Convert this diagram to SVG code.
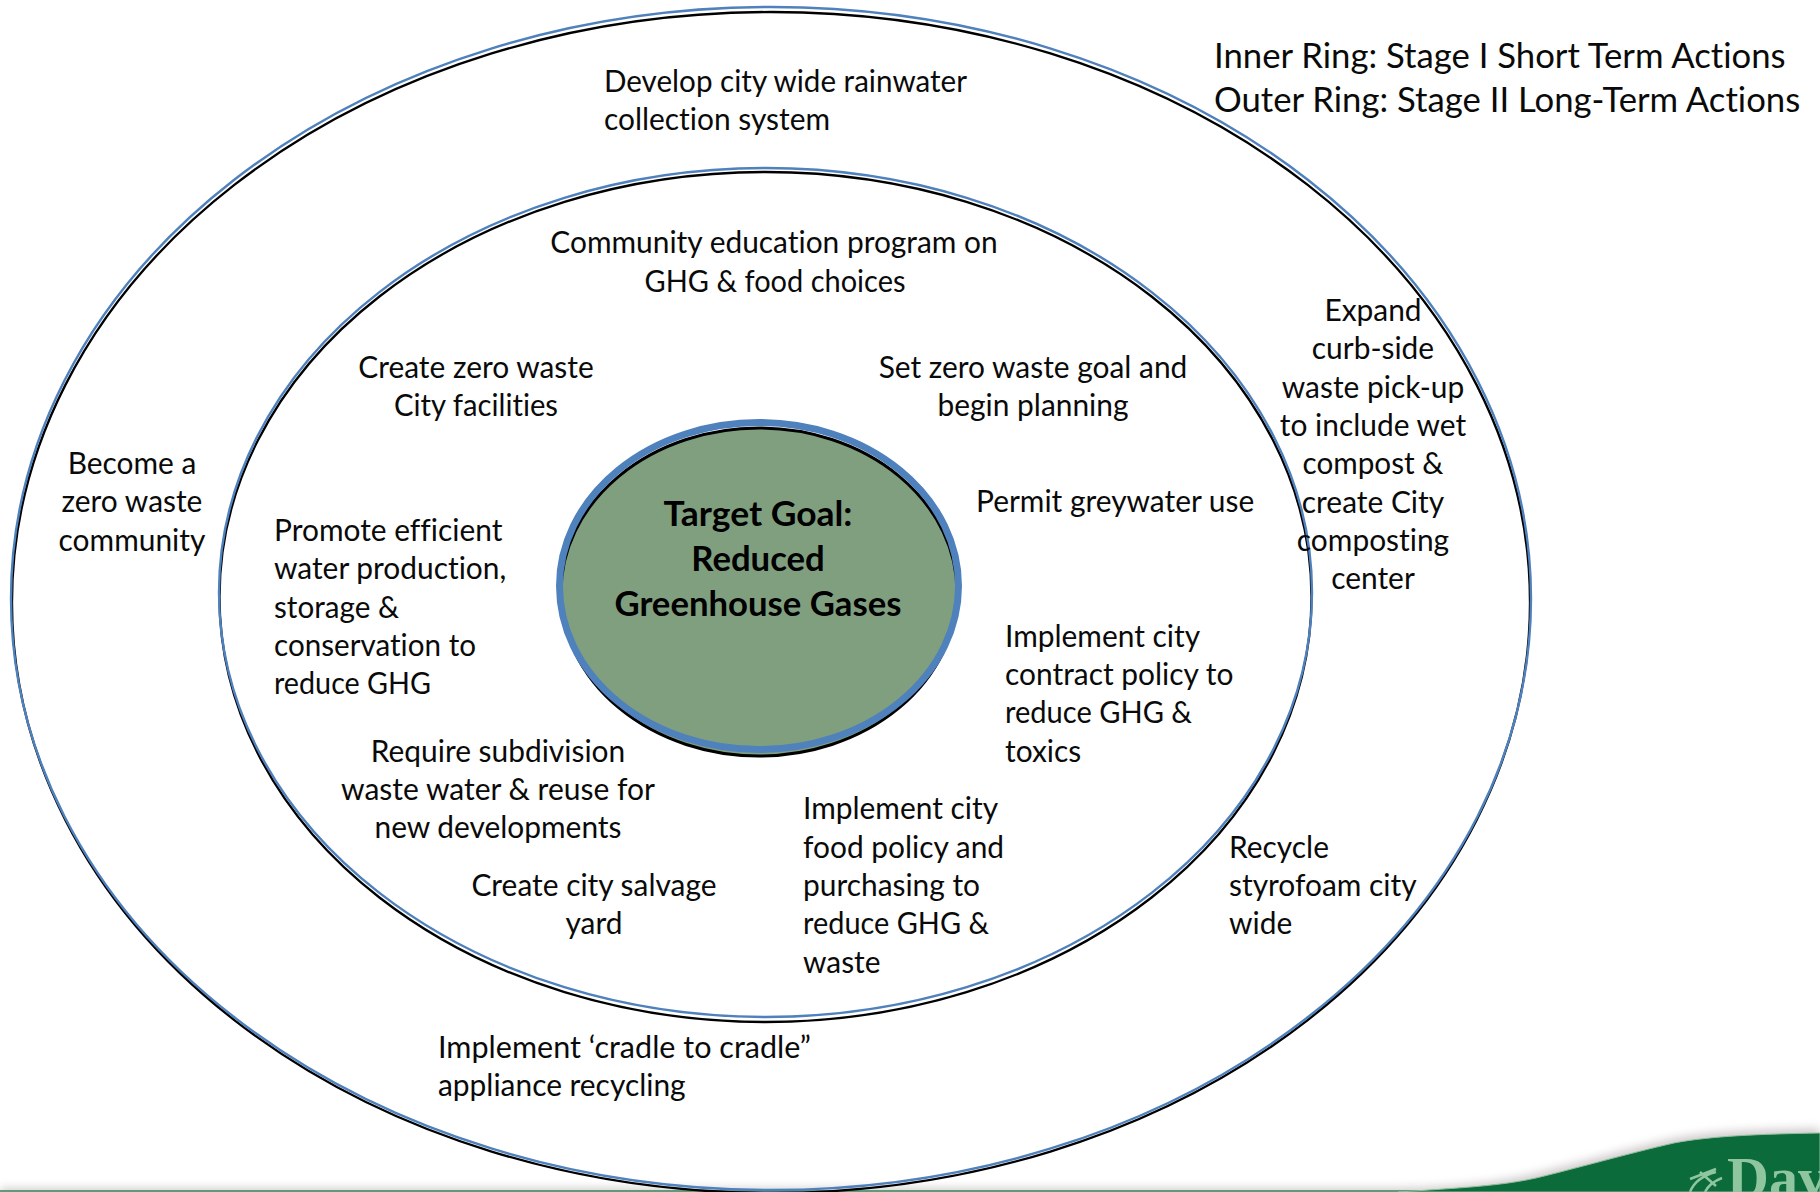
<svg xmlns="http://www.w3.org/2000/svg" width="1820" height="1192" viewBox="0 0 1820 1192">
<style>
text{font-family:"Lato","Liberation Sans",sans-serif;font-size:29.9px;fill:#0a0a0a;font-variant-ligatures:none}
.m{text-anchor:middle}
.b{font-weight:700;font-size:34.7px;text-anchor:middle;fill:#000}
.h{font-size:34.7px}
.k{fill:none;stroke:#000;stroke-width:2.3}
.u{fill:none;stroke:#4f81bd;stroke-width:2.4}
.d{font-family:"Liberation Serif",serif;font-size:58px;font-weight:700;fill:#8fc6a0}
</style>
<defs>
<filter id="bl" x="-5%" y="-50%" width="110%" height="200%"><feGaussianBlur stdDeviation="4"/></filter>
</defs>
<rect width="1820" height="1192" fill="#fff"/>
<g id="footer">
<path d="M0 1188H1398C1460 1186 1500 1182 1536 1173C1570 1165 1630 1148 1674 1138C1710 1131 1760 1129 1820 1128V1200H0Z" fill="#a89c9e" opacity=".5" filter="url(#bl)"/>
<rect x="0" y="1190" width="1420" height="2" fill="#5f9a7a"/>
<path d="M1398 1192C1460 1188 1500 1186 1536 1178C1570 1170 1630 1153 1674 1143C1710 1136 1760 1134 1820 1133V1192Z" fill="#0b6b3a" stroke="#8fbf9f" stroke-width="1"/>
<text class="d" x="1727" y="1197">Dav</text>
<path d="M1690 1179l26-10M1700 1172l16 14M1716 1172c-12 3-22 10-26 20M1722 1178c-8 3-14 8-17 14" fill="none" stroke="#8fc6a0" stroke-width="2.500"/>
</g>
<g id="outer-ring"><ellipse class="k" cx="771" cy="602.500" rx="759" ry="590.500"/><ellipse class="u" cx="771" cy="598.500" rx="760" ry="591.500"/></g>
<g id="inner-ring"><ellipse class="k" cx="765.500" cy="597" rx="546" ry="425"/><ellipse class="u" cx="765.500" cy="592.500" rx="546.500" ry="424.500"/></g>
<g id="target"><ellipse cx="759" cy="592" rx="198" ry="164" fill="#809f7f" stroke="#000" stroke-width="3"/><ellipse cx="759" cy="586" rx="199.500" ry="163.500" fill="none" stroke="#4f81bd" stroke-width="7"/>
<text class="b" x="758" y="526" textLength="189" lengthAdjust="spacingAndGlyphs">Target Goal:</text><text class="b" x="758" y="571">Reduced</text><text class="b" x="758" y="616">Greenhouse Gases</text></g>
<g id="legend"><text class="h" x="1214" y="68">Inner Ring: Stage I Short Term Actions</text><text class="h" x="1214" y="112">Outer Ring: Stage II Long-Term Actions</text></g>
<g id="rainwater"><text x="604" y="92" textLength="363" lengthAdjust="spacingAndGlyphs">Develop city wide rainwater</text><text x="604" y="130">collection system</text></g>
<g id="education"><text class="m" x="774" y="253">Community education program on</text><text class="m" x="775" y="292" textLength="261" lengthAdjust="spacingAndGlyphs">GHG &amp; food choices</text></g>
<g id="facilities"><text class="m" x="476" y="378">Create zero waste</text><text class="m" x="476" y="416" textLength="164" lengthAdjust="spacingAndGlyphs">City facilities</text></g>
<g id="zero-goal"><text class="m" x="1033" y="378">Set zero waste goal and</text><text class="m" x="1033" y="416">begin planning</text></g>
<g id="community"><text class="m" x="132" y="474">Become a</text><text class="m" x="132" y="512">zero waste</text><text class="m" x="132" y="551">community</text></g>
<g id="water"><text x="274" y="541">Promote efficient</text><text x="274" y="579">water production,</text><text x="274" y="618" textLength="125" lengthAdjust="spacingAndGlyphs">storage &amp;</text><text x="274" y="656" textLength="202" lengthAdjust="spacingAndGlyphs">conservation to</text><text x="274" y="694" textLength="157" lengthAdjust="spacingAndGlyphs">reduce GHG</text></g>
<g id="greywater"><text x="976" y="512">Permit greywater use</text></g>
<g id="contract"><text x="1005" y="647">Implement city</text><text x="1005" y="685">contract policy to</text><text x="1005" y="723" textLength="187" lengthAdjust="spacingAndGlyphs">reduce GHG &amp;</text><text x="1005" y="762">toxics</text></g>
<g id="subdivision"><text class="m" x="498" y="762">Require subdivision</text><text class="m" x="498" y="800" textLength="314" lengthAdjust="spacingAndGlyphs">waste water &amp; reuse for</text><text class="m" x="498" y="838">new developments</text></g>
<g id="salvage"><text class="m" x="594" y="896">Create city salvage</text><text class="m" x="594" y="934">yard</text></g>
<g id="food"><text x="803" y="819">Implement city</text><text x="803" y="858">food policy and</text><text x="803" y="896">purchasing to</text><text x="803" y="934" textLength="186" lengthAdjust="spacingAndGlyphs">reduce GHG &amp;</text><text x="803" y="973">waste</text></g>
<g id="styrofoam"><text x="1229" y="858">Recycle</text><text x="1229" y="896">styrofoam city</text><text x="1229" y="934">wide</text></g>
<g id="curbside"><text class="m" x="1373" y="321">Expand</text><text class="m" x="1373" y="359">curb-side</text><text class="m" x="1373" y="398">waste pick-up</text><text class="m" x="1373" y="436">to include wet</text><text class="m" x="1373" y="474" textLength="141" lengthAdjust="spacingAndGlyphs">compost &amp;</text><text class="m" x="1373" y="513">create City</text><text class="m" x="1373" y="551">composting</text><text class="m" x="1373" y="589">center</text></g>
<g id="cradle"><text x="438" y="1058" textLength="373" lengthAdjust="spacingAndGlyphs">Implement ‘cradle to cradle”</text><text x="438" y="1096">appliance recycling</text></g>
</svg>
